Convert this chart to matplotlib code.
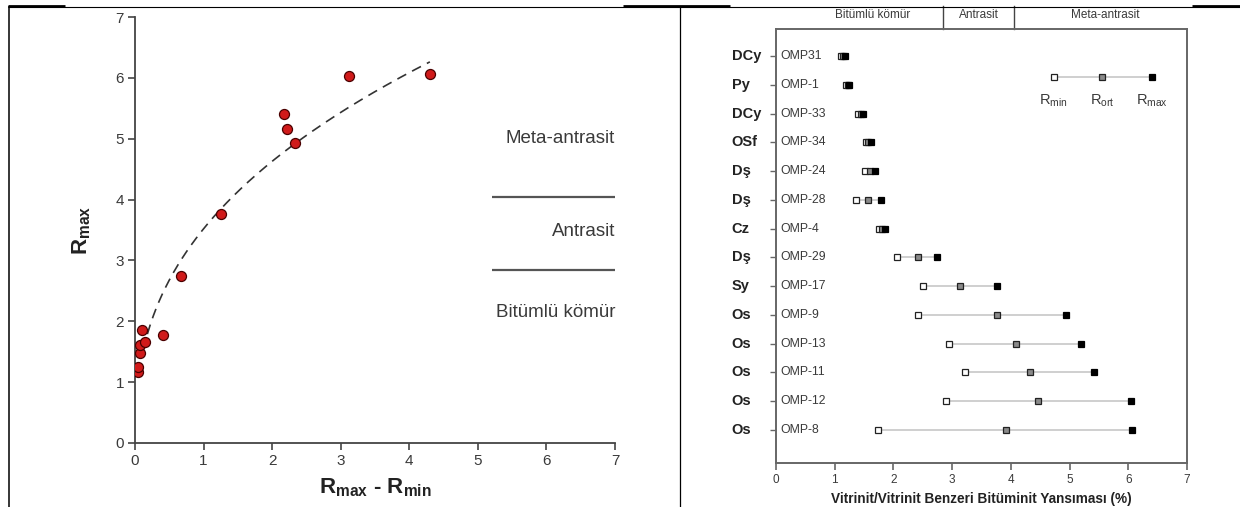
import matplotlib
matplotlib.use("Agg")
import matplotlib.pyplot as plt
from matplotlib.lines import Line2D
import numpy as np

plt.rcParams['font.family'] = ['Liberation Sans', 'DejaVu Sans']
plt.rcParams['mathtext.fontset'] = 'custom'
plt.rcParams['mathtext.rm'] = 'Liberation Sans'
plt.rcParams['mathtext.it'] = 'Liberation Sans'
plt.rcParams['mathtext.bf'] = 'Liberation Sans:bold'

# ---- left panel: Rmax against (Rmax - Rmin) ----
fark = [0.05, 0.05, 0.08, 0.08, 0.15, 0.41, 0.10, 0.67, 1.25, 2.33, 2.21, 2.17, 3.125, 4.30]
rmax_nokta = [1.17, 1.25, 1.48, 1.61, 1.66, 1.77, 1.855, 2.74, 3.77, 4.93, 5.16, 5.40, 6.03, 6.06]

# power-law trend  y = a * x^b
trend_a = 3.52
trend_b = 0.395
trend_x_aralik = [0.12, 4.30]

# rank boundaries (Rmax, %)
sinirlar = [2.85, 4.05]
rank_adlari = ['Bitümlü kömür', 'Antrasit', 'Meta-antrasit']
rank_etiket_y = [2.15, 3.47, 5.0]

# ---- right panel: reflectance ranges per sample ----
ornekler = ['OMP31', 'OMP-1', 'OMP-33', 'OMP-34', 'OMP-24', 'OMP-28', 'OMP-4',
            'OMP-29', 'OMP-17', 'OMP-9', 'OMP-13', 'OMP-11', 'OMP-12', 'OMP-8']
birimler = ['DCy', 'Py', 'DCy', 'OSf', 'Dş', 'Dş', 'Cz', 'Dş', 'Sy', 'Os', 'Os', 'Os', 'Os', 'Os']
r_min = [1.11, 1.20, 1.40, 1.53, 1.51, 1.36, 1.75, 2.06, 2.50, 2.42, 2.94, 3.22, 2.90, 1.74]
r_ort = [1.14, 1.22, 1.44, 1.57, 1.60, 1.57, 1.80, 2.42, 3.13, 3.76, 4.08, 4.33, 4.47, 3.91]
r_max = [1.17, 1.25, 1.48, 1.61, 1.68, 1.78, 1.855, 2.75, 3.76, 4.94, 5.19, 5.42, 6.05, 6.07]

W, H = 1240, 507
fig = plt.figure(figsize=(W / 100, H / 100), dpi=100)


def fx(px):
    return px / W


def fy(py):
    return 1 - py / H


grey_txt = '#3a3a3a'

# ================= left panel =================
ax1 = fig.add_axes([fx(135), fy(443), fx(615 - 135), (443 - 17) / H])
ax1.set_xlim(0, 7)
ax1.set_ylim(0, 7)
for s in ('top', 'right'):
    ax1.spines[s].set_visible(False)
for s in ('left', 'bottom'):
    ax1.spines[s].set_color('#444444')
    ax1.spines[s].set_linewidth(1.3)
ax1.set_xticks(range(8))
ax1.set_yticks(range(8))
ax1.tick_params(axis='both', direction='out', length=5, width=1.2, color='#444444',
                labelsize=11, labelcolor=grey_txt, pad=3)

xs = np.linspace(trend_x_aralik[0], trend_x_aralik[1], 200)
ax1.plot(xs, trend_a * xs ** trend_b, color='#333333', lw=1.2, dashes=(6, 4), zorder=2)
ax1.scatter(fark, rmax_nokta, s=52, facecolor='#d01a1a', edgecolor='#4a0000',
            linewidth=0.9, zorder=3)

for yb in sinirlar:
    ax1.plot([5.21, 7.0], [yb, yb], color='#555555', lw=1.6, solid_capstyle='butt')
for ad, yy in zip(rank_adlari, rank_etiket_y):
    ax1.text(7.0, yy, ad, ha='right', va='center', fontsize=13.5, color=grey_txt)

ax1.set_ylabel(r'$\mathbf{R_{max}}$', fontsize=16, color='#222222', labelpad=16)
ax1.set_xlabel(r'$\mathbf{R_{max}}$ - $\mathbf{R_{min}}$', fontsize=16,
               fontweight='bold', color='#222222', labelpad=6)

# ================= right panel =================
ax2 = fig.add_axes([fx(776), fy(463), fx(1187 - 776), (463 - 29) / H])
n = len(ornekler)
ypos = np.arange(n)
ax2.set_xlim(0, 7)
ax2.set_ylim(n - 1 + 1.15, -0.94)
for s in ax2.spines.values():
    s.set_color('#666666')
    s.set_linewidth(1.4)
ax2.set_xticks(range(8))
ax2.set_yticks(ypos)
ax2.set_yticklabels([])
ax2.tick_params(axis='x', direction='out', length=5, width=1.2, color='#666666',
                labelsize=8.5, labelcolor=grey_txt, pad=3)
ax2.tick_params(axis='y', direction='out', length=4, width=1.0, color='#666666')

msz = 5.0
for y, a, m, b in zip(ypos, r_min, r_ort, r_max):
    ax2.plot([a, b], [y, y], color='#cccccc', lw=1.3, zorder=1)
    ax2.plot(a, y, 's', ms=msz, mfc='white', mec='#222222', mew=0.9, zorder=2)
    ax2.plot(m, y, 's', ms=msz, mfc='#8a8a8a', mec='#222222', mew=0.9, zorder=3)
    ax2.plot(b, y, 's', ms=msz, mfc='black', mec='black', mew=0.9, zorder=4)

for y, ad, br in zip(ypos, ornekler, birimler):
    ax2.text(0.08, y, ad, ha='left', va='center', fontsize=8.8, color=grey_txt)
    ax2.annotate(br, xy=(0, y), xycoords=('axes fraction', 'data'),
                 xytext=(-32, 0), textcoords='offset points',
                 ha='left', va='center', fontsize=10.5, fontweight='bold',
                 color='#222222')

# legend drawn inside the axes
leg_x = [4.73, 5.56, 6.40]
leg_y = 0.73
ax2.plot([leg_x[0], leg_x[2]], [leg_y, leg_y], color='#cccccc', lw=1.3, zorder=1)
ax2.plot(leg_x[0], leg_y, 's', ms=msz, mfc='white', mec='#222222', mew=0.9, zorder=2)
ax2.plot(leg_x[1], leg_y, 's', ms=msz, mfc='#8a8a8a', mec='#222222', mew=0.9, zorder=3)
ax2.plot(leg_x[2], leg_y, 's', ms=msz, mfc='black', mec='black', mew=0.9, zorder=4)
for x, lab in zip(leg_x, [r'R$_{\rm min}$', r'R$_{\rm ort}$', r'R$_{\rm max}$']):
    ax2.text(x, 1.55, lab, ha='center', va='center', fontsize=10.5, color=grey_txt)

# rank bar above the axes
for xb in sinirlar:
    ax2.plot([xb, xb], [1.0, 1.053], transform=ax2.get_xaxis_transform(),
             color='#444444', lw=1.0, clip_on=False)
for ad, xx in zip(rank_adlari, [1.64, 3.46, 5.6]):
    ax2.text(xx, 1.032, ad, transform=ax2.get_xaxis_transform(), ha='center',
             va='center', fontsize=8.5, color=grey_txt)

ax2.set_xlabel('Vitrinit/Vitrinit Benzeri Bitüminit Yansıması (%)', fontsize=9.8,
               fontweight='bold', color='#222222', labelpad=4)

# ================= page frame =================
def hline(x0, x1, y, lw):
    fig.add_artist(Line2D([fx(x0), fx(x1)], [fy(y), fy(y)], color='black', lw=lw,
                          solid_capstyle='butt'))


def vline(x, y0, y1, lw):
    fig.add_artist(Line2D([fx(x), fx(x)], [fy(y0), fy(y1)], color='black', lw=lw,
                          solid_capstyle='butt'))


hline(8, 1240, 6.5, 0.8)
hline(8, 65, 6, 2.0)
hline(623, 730, 6, 2.0)
hline(1192, 1240, 6, 2.0)
vline(8.5, 6, 507, 1.1)
vline(680, 6, 507, 0.9)

fig.savefig('out.png', dpi=100, facecolor='white')
